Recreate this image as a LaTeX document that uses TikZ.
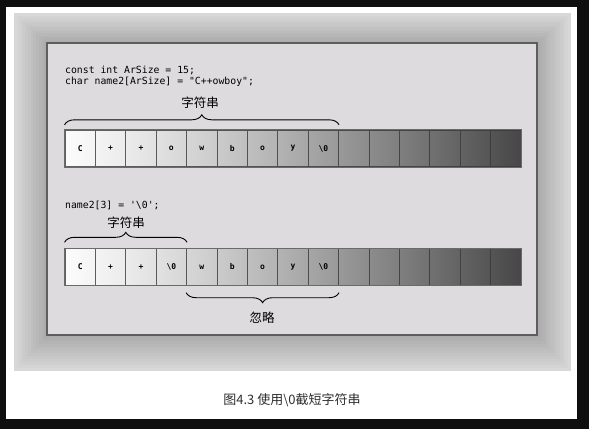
\documentclass[tikz,border=0pt]{standalone}
\usepackage{fontspec}
\setmonofont{DejaVu Sans Mono}
\newfontfamily\cjk{Noto Sans CJK SC}
\usetikzlibrary{calc,decorations.pathreplacing}
\definecolor{bgblack}{HTML}{0F0F0F}
\definecolor{panelfill}{HTML}{DDDBDE}
\definecolor{panelborder}{HTML}{5E5E5E}
\definecolor{barborder}{HTML}{6A6A6A}
\definecolor{captiongray}{HTML}{2E2E2E}
\tikzset{
  cell/.style={line width=0.9pt, minimum width=30.4pt,
    minimum height=36.5pt, inner sep=0pt,
    font=\ttfamily\bfseries\fontsize{8}{9}\selectfont},
  codetext/.style={anchor=west, inner sep=0pt, align=left,
    font=\ttfamily\fontsize{9.8}{12}\selectfont},
  cjklabel/.style={inner sep=0pt, font=\cjk\fontsize{12.5}{14}\selectfont},
  bracestyle/.style={decorate, decoration={brace, amplitude=10pt},
    line width=0.9pt, black},
}
\begin{document}
\begin{tikzpicture}[x=1pt,y=-1pt]
\useasboundingbox (0,0) rectangle (589,429);
\fill[bgblack] (0,0) rectangle (589,429);
\fill[white] (6,7) rectangle (577,419);
% bevelled gradient frame
\foreach \k in {0,...,11}{
  \pgfmathsetmacro{\gv}{int(216-4*\k)}
  \definecolor{framec}{RGB}{\gv,\gv,\gv}
  \fill[framec] ({14+33*\k/12},{13+30*\k/12}) rectangle ({571-34*\k/12},{371-36*\k/12});
}
\filldraw[fill=panelfill, draw=panelborder, line width=1.4pt] (47,43) rectangle (537,335);

% code text
\node[codetext] (code1) at (65,70) {const int ArSize = 15;};
\node[codetext] (code2) at (65,82) {char name2[ArSize] = "C++owboy";};
\node[codetext] (code3) at (65,205) {name2[3] = '\textbackslash 0';};

% cells
\foreach \i/\a/\b/\p/\q in {0/252/244/C/C, 1/244/235/+/+, 2/235/225/+/+,
  3/225/214/o/{\textbackslash 0}, 4/214/203/w/w, 5/203/191/b/b, 6/191/179/o/o,
  7/179/166/y/y, 8/166/153/{\textbackslash 0}/{\textbackslash 0},
  9/153/140/{}/{}, 10/140/127/{}/{}, 11/127/113/{}/{}, 12/113/99/{}/{},
  13/99/85/{}/{}, 14/85/71/{}/{}}{
  \definecolor{cl}{RGB}{\a,\a,\a}
  \definecolor{cr}{RGB}{\b,\b,\b}
  \pgfmathsetmacro{\bv}{int(98-2.6*\i)}
  \definecolor{cb}{RGB}{\bv,\bv,\bv}
  \node[cell, draw=cb, left color=cl, right color=cr] (a\i) at ({65+30.4*\i+15.2},148.5) {\p};
  \node[cell, draw=cb, left color=cl, right color=cr] (b\i) at ({65+30.4*\i+15.2},267) {\q};
}
\draw[barborder, line width=0.9pt] (a0.north west) rectangle (a14.south east);
\draw[barborder, line width=0.9pt] (b0.north west) rectangle (b14.south east);

% braces
\coordinate (t1s) at ($(a0.north west)+(0,-5)$);
\coordinate (t1e) at ($(a8.north east)+(0,-5)$);
\draw[bracestyle] (t1s) -- (t1e);
\node[cjklabel] (lab1) at (200,103) {字符串};

\coordinate (t2s) at ($(b0.north west)+(0,-6)$);
\coordinate (t2e) at ($(b3.north east)+(0,-6)$);
\draw[bracestyle] (t2s) -- (t2e);
\node[cjklabel] (lab2) at (126,223) {字符串};

\coordinate (t3s) at ($(b8.south east)+(0,7)$);
\coordinate (t3e) at ($(b4.south west)+(0,7)$);
\draw[bracestyle] (t3s) -- (t3e);
\node[cjklabel] (lab3) at (262,318) {忽略};

% caption
\node[inner sep=0pt, text=captiongray, font=\cjk\fontsize{13}{15}\selectfont] (caption) at (292,400) {图4.3 使用\textbackslash 0截短字符串};
\end{tikzpicture}
\end{document}
